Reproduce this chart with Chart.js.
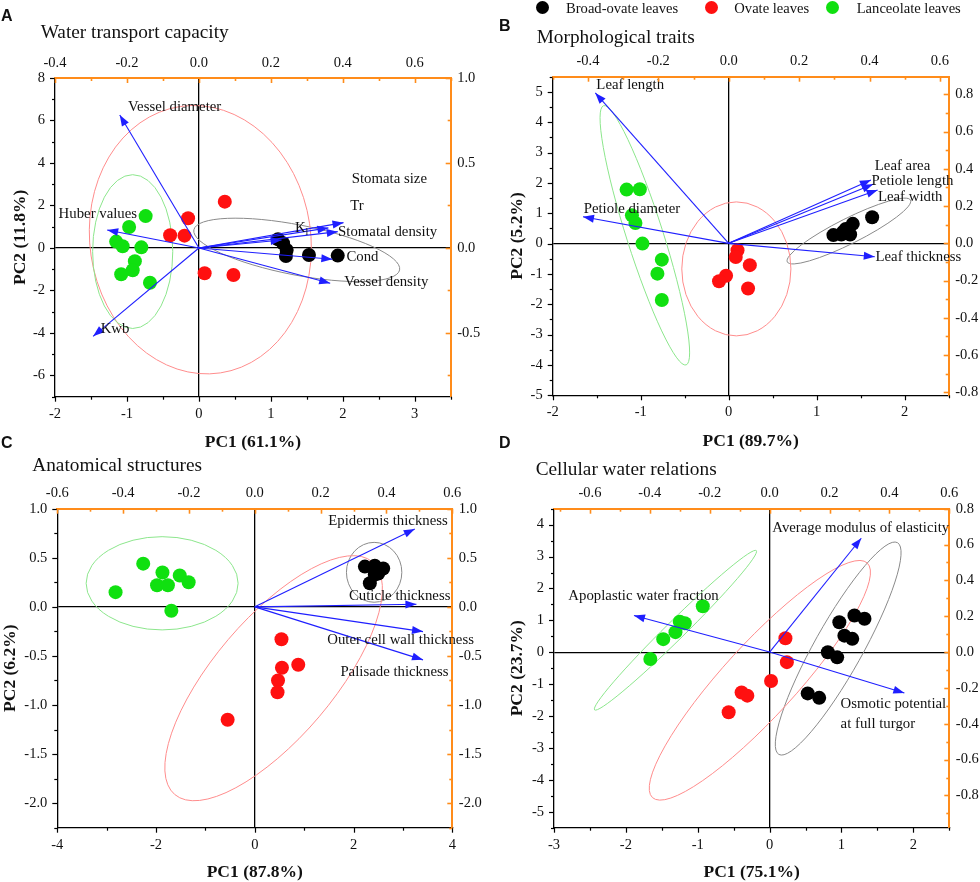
<!DOCTYPE html>
<html>
<head>
<meta charset="utf-8">
<script src="https://cdn.jsdelivr.net/npm/chart.js@4.4.0/dist/chart.umd.min.js"></script>
<style>
  body { margin: 0; width: 980px; height: 882px; overflow: hidden; position: relative; background: #fff;
         font-family: "Liberation Serif", "Times New Roman", serif; color: #111; }
  canvas { position: absolute; }
  .txt { position: absolute; white-space: nowrap; }
  .letter { font-family: "Liberation Sans", Arial, sans-serif; font-weight: bold; font-size: 16px; line-height: 16px; }
  .title { font-size: 19.3px; line-height: 19px; }
  .leg { font-size: 14.6px; line-height: 14.5px; }
  .dot { position: absolute; width: 13px; height: 13px; border-radius: 50%; }
</style>
</head>
<body>
<script>
// leaf shape groups
const groups = ["Broad-ovate leaves", "Ovate leaves", "Lanceolate leaves"];

// ---- A: water transport capacity ----
const aPC = ["PC1 (61.1%)", "PC2 (11.8%)"];
const aBroadX = [1.10, 1.17, 1.22, 1.21, 1.53, 1.93];
const aBroadY = [0.41, 0.22, -0.09, -0.38, -0.33, -0.36];
const aOvateX = [0.36, -0.15, -0.40, -0.20, 0.08, 0.48];
const aOvateY = [2.18, 1.40, 0.60, 0.58, -1.19, -1.27];
const aLanceX = [-0.74, -0.97, -1.15, -1.06, -0.80, -0.89, -0.92, -1.08, -0.68];
const aLanceY = [1.50, 0.99, 0.30, 0.08, 0.03, -0.62, -1.05, -1.24, -1.64];
const aTraits = ["Vessel diameter", "Huber values", "Kwb", "Stomata size", "Tr", "K_l", "Stomatal density", "Cond", "Vessel density"];
const aLoadX = [-0.220, -0.255, -0.294, 0.402, 0.360, 0.230, 0.386, 0.371, 0.365];
const aLoadY = [0.782, 0.106, -0.520, 0.149, 0.118, 0.047, 0.096, -0.066, -0.208];
// 95% ellipses: centre, two conjugate semi-axes (PC units)
const aEllBroad = [1.36, -0.09, 1.430, -0.943, 0.066, 1.157];
const aEllOvate = [0.02, 0.39, 1.518, 0.770, -0.279, 6.27];
const aEllLance = [-0.92, -0.17, 0.557, 0, 0, 3.62];
const aBottomTicks = [-2, -1, 0, 1, 2, 3];
const aLeftTicks = [-6, -4, -2, 0, 2, 4, 6, 8];
const aTopTicks = [-0.4, -0.2, 0, 0.2, 0.4, 0.6];
const aRightTicks = [-0.5, 0, 0.5, 1.0];

// ---- B: morphological traits ----
const bPC = ["PC1 (89.7%)", "PC2 (5.2%)"];
const bBroadX = [1.63, 1.41, 1.33, 1.30, 1.38, 1.28, 1.19];
const bBroadY = [0.87, 0.65, 0.48, 0.38, 0.30, 0.30, 0.28];
const bOvateX = [0.10, 0.08, 0.24, -0.03, -0.11, 0.22];
const bOvateY = [-0.22, -0.44, -0.71, -1.06, -1.24, -1.48];
const bLanceX = [-1.16, -1.01, -1.10, -1.06, -0.98, -0.76, -0.81, -0.76];
const bLanceY = [1.78, 1.79, 0.93, 0.68, 0.00, -0.53, -0.99, -1.86];
const bTraits = ["Leaf length", "Petiole diameter", "Leaf area", "Petiole length", "Leaf width", "Leaf thickness"];
const bLoadX = [-0.379, -0.414, 0.404, 0.410, 0.423, 0.415];
const bLoadY = [0.808, 0.143, 0.340, 0.317, 0.286, -0.072];
const bEllBroad = [1.366, 0.414, 0.700, 1.019, 0.065, -0.372];
const bEllOvate = [0.087, -0.834, 0.620, 0, 0, 2.208];
const bEllLance = [-0.953, 0.273, 0.469, -4.272, 0.198, 0.183];
const bBottomTicks = [-2, -1, 0, 1, 2];
const bLeftTicks = [-5, -4, -3, -2, -1, 0, 1, 2, 3, 4, 5];
const bTopTicks = [-0.4, -0.2, 0, 0.2, 0.4, 0.6];
const bRightTicks = [-0.8, -0.6, -0.4, -0.2, 0, 0.2, 0.4, 0.6, 0.8];

// ---- C: anatomical structures ----
const cPC = ["PC1 (87.8%)", "PC2 (6.2%)"];
const cBroadX = [2.23, 2.43, 2.60, 2.33, 2.43, 2.50];
const cBroadY = [0.41, 0.42, 0.39, 0.24, 0.33, 0.34];
const cOvateX = [0.54, 0.55, 0.88, 0.47, 0.46, -0.55];
const cOvateY = [-0.33, -0.62, -0.59, -0.75, -0.87, -1.15];
const cLanceX = [-2.26, -1.87, -1.98, -1.76, -1.52, -1.34, -2.82, -1.69];
const cLanceY = [0.44, 0.35, 0.22, 0.22, 0.32, 0.25, 0.15, -0.04];
const cTraits = ["Epidermis thickness", "Cuticle thickness", "Outer cell wall thickness", "Palisade thickness"];
const cLoadX = [0.486, 0.491, 0.511, 0.511];
const cLoadY = [0.794, 0.026, -0.252, -0.540];
const cEllBroad = [2.417, 0.352, 0.561, 0, 0, 0.305];
const cEllOvate = [0.381, -0.727, 2.002, 1.185, 0.921, -0.393];
const cEllLance = [-1.877, 0.240, 1.539, 0, 0, 0.475];
const cBottomTicks = [-4, -2, 0, 2, 4];
const cLeftTicks = [-2.0, -1.5, -1.0, -0.5, 0, 0.5, 1.0];
const cTopTicks = [-0.6, -0.4, -0.2, 0, 0.2, 0.4, 0.6];
const cRightTicks = [-2.0, -1.5, -1.0, -0.5, 0, 0.5, 1.0];

// ---- D: cellular water relations ----
const dPC = ["PC1 (75.1%)", "PC2 (23.7%)"];
const dBroadX = [0.97, 1.18, 1.32, 1.04, 1.15, 0.81, 0.94, 0.53, 0.69];
const dBroadY = [0.94, 1.15, 1.05, 0.52, 0.42, 0.00, -0.16, -1.29, -1.43];
const dOvateX = [0.22, 0.24, 0.02, -0.39, -0.31, -0.57];
const dOvateY = [0.44, -0.31, -0.90, -1.26, -1.36, -1.88];
const dLanceX = [-0.93, -1.25, -1.18, -1.31, -1.48, -1.66];
const dLanceY = [1.44, 0.96, 0.91, 0.63, 0.41, -0.21];
const dTraits = ["Average modulus of elasticity", "Apoplastic water fraction", "Osmotic potential\nat full turgor"];
const dLoadX = [0.306, -0.453, 0.450];
const dLoadY = [0.635, 0.204, -0.228];
const dEllBroad = [0.954, 0.116, 0.825, 3.319, 0.292, -0.370];
const dEllOvate = [-0.136, -0.879, 1.494, 3.677, 0.370, -0.769];
const dEllLance = [-1.31, 0.69, 1.125, 2.496, 0.091, -0.209];
const dBottomTicks = [-3, -2, -1, 0, 1, 2];
const dLeftTicks = [-5, -4, -3, -2, -1, 0, 1, 2, 3, 4];
const dTopTicks = [-0.6, -0.4, -0.2, 0, 0.2, 0.4, 0.6];
const dRightTicks = [-0.8, -0.6, -0.4, -0.2, 0, 0.2, 0.4, 0.6, 0.8];

// where the trait names sit, in loading units (top / right axes)
const aTextAt = [[-0.197, 0.831], [-0.39, 0.20], [-0.273, -0.476], [0.425, 0.406], [0.421, 0.249], [0.267, 0.116], [0.387, 0.094], [0.41, -0.051], [0.404, -0.198]];
const bTextAt = [[-0.376, 0.85], [-0.412, 0.184], [0.415, 0.415], [0.406, 0.336], [0.424, 0.247], [0.417, -0.072]];
const cTextAt = [[0.223, 0.876], [0.286, 0.112], [0.22, -0.336], [0.26, -0.666]];
const dTextAt = [[0.009, 0.69], [-0.672, 0.31], [0.237, -0.293]];

const FONT = "'Liberation Serif', 'Times New Roman', serif";
const BLUE = "#1f1fff";
const ORANGE = "#ff8c1a";
const DOT = ["#000000", "#ff1010", "#10e010"];
const RING = ["#8a8a8a", "#ff8c8c", "#8ce68c"];

const panels = [
  { letter: "A", name: "Water transport capacity", box: [0, 0, 490, 460], area: [55, 78, 450.7, 396.7],
    x: [-2, 3.5], y: [-7, 8], x2: [-0.4, 0.7], y2: [-0.875, 1.0],
    ticks: [aBottomTicks, aLeftTicks, aTopTicks, aRightTicks], minor: [0.5, 1, 0.1, 0.25], dec: [0, 0, 1, 1],
    pc: aPC, titlePad: [8.75, 11.25],
    pts: [[aBroadX, aBroadY], [aOvateX, aOvateY], [aLanceX, aLanceY]], ells: [aEllBroad, aEllOvate, aEllLance],
    traits: aTraits, lx: aLoadX, ly: aLoadY, at: aTextAt,
    letterPos: [1, 8], titlePos: [40.7, 22.4] },
  { letter: "B", name: "Morphological traits", box: [490, 0, 490, 460], area: [552.7, 76.7, 948.7, 395.3],
    x: [-2, 2.5], y: [-5, 5.5], x2: [-0.5, 0.625], y2: [-0.816, 0.895],
    ticks: [bBottomTicks, bLeftTicks, bTopTicks, bRightTicks], minor: [0.5, 0.5, 0.1, 0.1], dec: [0, 0, 1, 1],
    pc: bPC, titlePad: [10.25, 19],
    pts: [[bBroadX, bBroadY], [bOvateX, bOvateY], [bLanceX, bLanceY]], ells: [bEllBroad, bEllOvate, bEllLance],
    traits: bTraits, lx: bLoadX, ly: bLoadY, at: bTextAt,
    letterPos: [499, 18], titlePos: [536.7, 27.4] },
  { letter: "C", name: "Anatomical structures", box: [0, 441, 490, 441], area: [57.3, 508.7, 452.3, 827.7],
    x: [-4, 4], y: [-2.25, 1.0], x2: [-0.6, 0.6], y2: [-2.25, 1.0],
    ticks: [cBottomTicks, cLeftTicks, cTopTicks, cRightTicks], minor: [1, 0.25, 0.1, 0.25], dec: [0, 1, 1, 1],
    pc: cPC, titlePad: [1.25, 1.5],
    pts: [[cBroadX, cBroadY], [cOvateX, cOvateY], [cLanceX, cLanceY]], ells: [cEllBroad, cEllOvate, cEllLance],
    traits: cTraits, lx: cLoadX, ly: cLoadY, at: cTextAt,
    letterPos: [1, 434.7], titlePos: [32.3, 455.1] },
  { letter: "D", name: "Cellular water relations", box: [490, 441, 490, 441], area: [554, 508.7, 949.3, 827.7],
    x: [-3, 2.5], y: [-5.5, 4.5], x2: [-0.72, 0.6], y2: [-0.98, 0.8],
    ticks: [dBottomTicks, dLeftTicks, dTopTicks, dRightTicks], minor: [0.5, 0.5, 0.1, 0.1], dec: [0, 0, 1, 1],
    pc: dPC, titlePad: [1.25, 19],
    pts: [[dBroadX, dBroadY], [dOvateX, dOvateY], [dLanceX, dLanceY]], ells: [dEllBroad, dEllOvate, dEllLance],
    traits: dTraits, lx: dLoadX, ly: dLoadY, at: dTextAt,
    letterPos: [499, 434.7], titlePos: [535.7, 459.4] }
];

// minor + major tick marks (in or out), drawn by hand because Chart.js has no minor ticks
const tickMarks = {
  id: "tickMarks",
  afterDraw(chart) {
    const ctx = chart.ctx;
    Object.values(chart.scales).forEach(s => {
      const m = s.options.marks;
      if (!m) return;
      const horiz = s.isHorizontal();
      const pos = s.options.position;
      const edge = horiz ? (pos === "top" ? s.bottom : s.top) : (pos === "left" ? s.right : s.left);
      let sign = (pos === "top" || pos === "left") ? -1 : 1;
      if (m.inward) sign = -sign;
      ctx.save();
      ctx.strokeStyle = m.color;
      ctx.lineWidth = m.width;
      const mark = (v, len) => {
        const p = Math.round(s.getPixelForValue(v)) + 0.5;
        ctx.beginPath();
        if (horiz) { ctx.moveTo(p, edge); ctx.lineTo(p, edge + sign * len); }
        else { ctx.moveTo(edge, p); ctx.lineTo(edge + sign * len, p); }
        ctx.stroke();
      };
      s.ticks.forEach(t => mark(t.value, 5));
      const k0 = Math.ceil(s.min / m.minor - 1e-6), k1 = Math.floor(s.max / m.minor + 1e-6);
      for (let k = k0; k <= k1; k++) {
        const v = k * m.minor;
        if (!s.ticks.some(t => Math.abs(t.value - v) < 1e-6)) mark(v, 3);
      }
      ctx.restore();
    });
  }
};

const biplot = {
  id: "biplot",
  beforeDatasetsDraw(chart, args, opts) {
    const { ctx, scales: { x, y } } = chart;
    opts.ellipses.forEach((e, i) => {
      const [cx, cy, ux, uy, vx, vy] = e;
      const C = [x.getPixelForValue(cx), y.getPixelForValue(cy)];
      const U = [x.getPixelForValue(cx + ux) - C[0], y.getPixelForValue(cy + uy) - C[1]];
      const V = [x.getPixelForValue(cx + vx) - C[0], y.getPixelForValue(cy + vy) - C[1]];
      ctx.save();
      ctx.beginPath();
      ctx.transform(U[0], U[1], V[0], V[1], C[0], C[1]);
      ctx.arc(0, 0, 1, 0, Math.PI * 2);
      ctx.restore();
      ctx.save();
      ctx.strokeStyle = RING[i];
      ctx.lineWidth = 1;
      ctx.stroke();
      ctx.restore();
    });
  },
  afterDatasetsDraw(chart, args, opts) {
    const { ctx, scales: { x2, y2 } } = chart;
    // arrow heads
    chart.data.datasets.forEach((ds, i) => {
      if (!ds.arrow) return;
      const [a, b] = chart.getDatasetMeta(i).data;
      const ang = Math.atan2(b.y - a.y, b.x - a.x);
      ctx.save();
      ctx.translate(b.x, b.y);
      ctx.rotate(ang);
      ctx.beginPath();
      ctx.moveTo(0, 0);
      ctx.lineTo(-11, -4);
      ctx.lineTo(-11, 4);
      ctx.closePath();
      ctx.fillStyle = BLUE;
      ctx.fill();
      ctx.restore();
    });
    // trait names
    ctx.save();
    ctx.fillStyle = "#111";
    ctx.textBaseline = "middle";
    ctx.textAlign = "left";
    opts.labels.forEach(l => {
      const px = x2.getPixelForValue(l.at[0]);
      const py = y2.getPixelForValue(l.at[1]);
      l.text.split("\n").forEach((line, k) => {
        const parts = line.split("_");
        ctx.font = "14.8px " + FONT;
        ctx.fillText(parts[0], px, py + k * 19.4);
        if (parts[1]) {
          const w = ctx.measureText(parts[0]).width;
          ctx.font = "10px " + FONT;
          ctx.fillText(parts[1], px + w, py + 4 + k * 19.4);
        }
      });
    });
    ctx.restore();
  }
};

function axis(pos, range, ticks, dec, minor, pad, size, primary) {
  const col = primary ? "#000" : ORANGE;
  return {
    type: "linear", position: pos, min: range[0], max: range[1], bounds: "data",
    afterBuildTicks: s => { s.ticks = ticks.map(v => ({ value: v })); },
    afterFit: s => { if (s.isHorizontal()) s.height = size; else s.width = size; },
    ticks: { padding: pad, color: "#111", autoSkip: false, maxRotation: 0, minRotation: 0,
             font: { family: FONT, size: 14.5 }, callback: v => Number(v).toFixed(dec) },
    grid: primary
      ? { display: true, drawTicks: false, tickLength: 0, lineWidth: 1.3,
          color: c => (c.tick && Math.abs(c.tick.value) < 1e-9) ? "#000" : "rgba(0,0,0,0)" }
      : { display: false, drawTicks: false, tickLength: 0 },
    border: { display: true, color: col, width: primary ? 1.3 : 2 },
    marks: { color: col, inward: !primary, minor: minor, width: primary ? 1.2 : 1.6 }
  };
}

panels.forEach(p => {
  const cv = document.createElement("canvas");
  cv.width = p.box[2];
  cv.height = p.box[3];
  cv.style.left = p.box[0] + "px";
  cv.style.top = p.box[1] + "px";
  document.body.appendChild(cv);

  const L = p.area[0] - p.box[0], T = p.area[1] - p.box[1];
  const R = p.area[2] - p.box[0], B = p.area[3] - p.box[1];

  const datasets = [];
  p.traits.forEach((t, i) => {
    datasets.push({ type: "line", label: t, arrow: true, xAxisID: "x2", yAxisID: "y2",
      data: [{ x: 0, y: 0 }, { x: p.lx[i], y: p.ly[i] }],
      borderColor: BLUE, borderWidth: 1.1, pointRadius: 0, fill: false, order: 0 });
  });
  p.pts.forEach(([xs, ys], g) => {
    datasets.push({ type: "scatter", label: groups[g], xAxisID: "x", yAxisID: "y",
      data: xs.map((v, i) => ({ x: v, y: ys[i] })),
      backgroundColor: DOT[g], pointRadius: 7, pointBorderWidth: 0, order: 1 });
  });

  const xs = axis("bottom", p.x, p.ticks[0], p.dec[0], p.minor[0], 8.5, p.box[3] - B, true);
  xs.title = { display: true, text: p.pc[0], color: "#111", padding: { top: 0, bottom: p.titlePad[0] },
               font: { family: FONT, size: 17.5, weight: "bold", lineHeight: 1 } };
  const ys = axis("left", p.y, p.ticks[1], p.dec[1], p.minor[1], 10, L, true);
  ys.title = { display: true, text: p.pc[1], color: "#111", padding: { top: p.titlePad[1], bottom: 0 },
               font: { family: FONT, size: 17.5, weight: "bold", lineHeight: 1 } };

  new Chart(cv, {
    type: "scatter",
    data: { datasets },
    options: {
      responsive: false,
      animation: false,
      layout: { padding: 0 },
      scales: {
        x: xs,
        y: ys,
        x2: axis("top", p.x2, p.ticks[2], p.dec[2], p.minor[2], 6.5, T, false),
        y2: axis("right", p.y2, p.ticks[3], p.dec[3], p.minor[3], 6.5, p.box[2] - R, false)
      },
      plugins: {
        legend: { display: false },
        tooltip: { enabled: false },
        biplot: {
          ellipses: p.ells,
          labels: p.traits.map((t, i) => ({ text: t, at: p.at[i] }))
        }
      }
    },
    plugins: [biplot, tickMarks]
  });

  const lt = document.createElement("div");
  lt.className = "txt letter";
  lt.style.left = p.letterPos[0] + "px";
  lt.style.top = p.letterPos[1] + "px";
  lt.textContent = p.letter;
  document.body.appendChild(lt);

  const tt = document.createElement("div");
  tt.className = "txt title";
  tt.style.left = p.titlePos[0] + "px";
  tt.style.top = p.titlePos[1] + "px";
  tt.textContent = p.name;
  document.body.appendChild(tt);
});

// shared legend above panel B
const legDots = [[542.3, 7.3], [711, 7.2], [832.3, 7.5]];
const legText = [566, 734.3, 856.7];
groups.forEach((g, i) => {
  const d = document.createElement("div");
  d.className = "dot";
  d.style.background = DOT[i];
  d.style.left = (legDots[i][0] - 6.5) + "px";
  d.style.top = (legDots[i][1] - 6.5) + "px";
  document.body.appendChild(d);
  const t = document.createElement("div");
  t.className = "txt leg";
  t.style.left = legText[i] + "px";
  t.style.top = "0.5px";
  t.textContent = g;
  document.body.appendChild(t);
});
</script>
</body>
</html>
